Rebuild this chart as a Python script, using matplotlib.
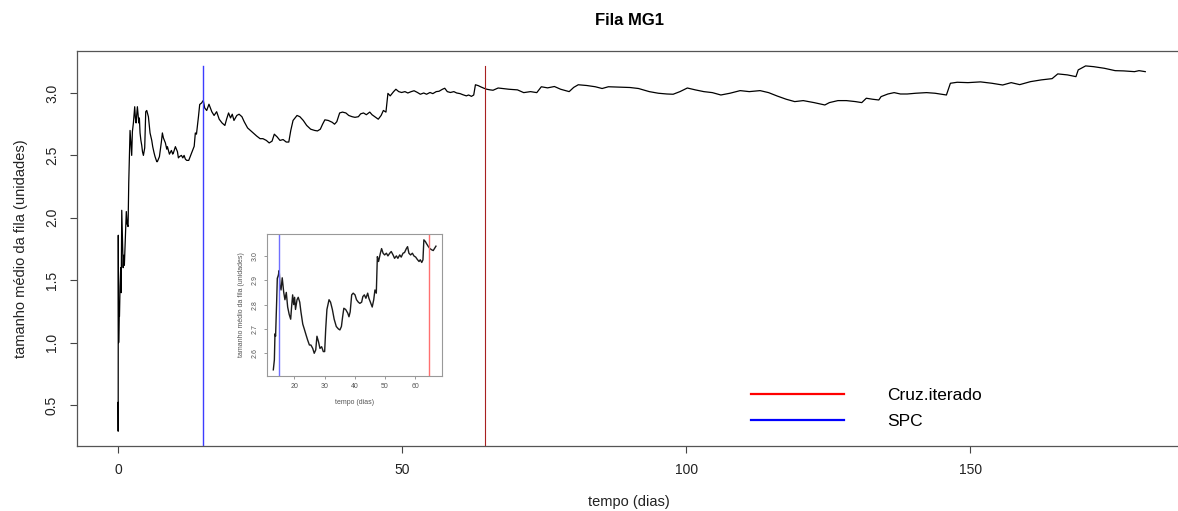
import numpy as np
import matplotlib
matplotlib.use('Agg')
import matplotlib.pyplot as plt
from matplotlib.lines import Line2D

plt.rcParams['font.family'] = ['Liberation Sans', 'DejaVu Sans']

# Média acumulada do tamanho da fila
tempo = [
    0.00, 0.02, 0.04, 0.10, 0.18, 0.25, 0.35, 0.47, 0.55, 0.65, 0.76, 0.90, 1.00, 1.11,
    1.30, 1.45, 1.60, 1.76, 1.88, 2.11, 2.29, 2.40, 2.52, 2.70, 2.93, 3.05, 3.17, 3.28,
    3.40, 3.52, 3.64, 3.75, 3.87, 4.02, 4.17, 4.30, 4.46, 4.69, 4.87, 5.05, 5.16, 5.34,
    5.63, 5.93, 6.10, 6.34, 6.51, 6.81, 6.92, 7.28, 7.63, 7.80, 7.98, 8.33, 8.57, 8.69,
    9.04, 9.15, 9.39, 9.62, 9.74, 10.09, 10.45, 10.62, 10.80, 11.15, 11.40, 11.62, 11.85,
    12.09, 12.44, 12.79,
    13.05, 13.4, 13.6, 13.8, 14.15, 14.37, 14.7, 15.0, 15.25, 15.6, 16.0, 16.5, 16.9,
    17.35, 17.8, 18.3, 18.8, 19.1, 19.45, 19.8, 20.1, 20.4, 20.9, 21.3, 21.8, 22.2, 22.8,
    23.3, 23.9, 24.4, 25.0, 25.5, 26.1, 26.6, 27.1, 27.5, 28.0, 28.5, 29.05, 29.6, 30.05,
    30.4, 30.8, 31.5, 32.0, 32.6, 33.2, 33.9, 34.6, 35.1, 35.6, 36.0, 36.4, 37.0, 37.7,
    38.1, 38.5, 39.0, 39.5, 40.1, 40.6, 41.2, 41.7, 42.3, 42.7, 43.2, 43.7, 44.3, 44.7,
    45.2, 45.8, 46.3, 46.7, 47.15, 47.5, 47.9, 48.5, 48.9, 49.4, 49.9, 50.5, 51.0, 51.6,
    52.1, 52.7, 53.2, 53.8, 54.3, 54.9, 55.4, 56.0, 56.5, 57.1, 57.5, 57.95, 58.5, 59.1,
    59.6, 60.2, 60.7, 61.3, 61.7, 62.2, 62.6, 62.9, 63.4, 63.8, 64.4, 64.9, 65.5, 66.0,
    66.4, 66.9,
    67.25, 68.8, 70.3, 71.4, 72.6, 73.7, 74.5, 75.6, 76.8, 77.9, 79.4, 80.2, 81.0, 82.5,
    84.0, 85.2, 86.3, 88.2, 90.1, 91.6, 93.5, 95.1, 96.6, 97.7, 98.9, 100.2, 101.6, 103.1,
    104.6, 106.1, 107.7, 109.5, 111.1, 113.0, 114.5, 116.0, 117.6, 119.1, 120.6, 122.5,
    124.4, 125.2, 126.7, 128.2, 129.8, 130.9, 131.7, 132.8, 133.9, 134.3, 135.5, 136.6,
    137.7, 138.9, 140.4, 142.3, 143.8, 145.8, 146.5, 147.7, 149.6, 151.8, 153.8, 155.7,
    157.2, 158.7, 160.6, 162.5, 164.4, 165.4, 167.1, 168.6, 169.0, 170.3, 171.7, 173.6,
    175.5, 177.0, 178.9, 179.7, 180.8,
]
tamanho = [
    0.52, 0.29, 1.86, 1.00, 1.22, 1.21, 1.45, 1.60, 1.40, 2.06, 1.85, 1.60, 1.70, 1.62,
    1.85, 2.05, 1.95, 1.93, 2.28, 2.70, 2.57, 2.50, 2.69, 2.76, 2.89, 2.80, 2.76, 2.82,
    2.89, 2.83, 2.76, 2.80, 2.68, 2.62, 2.58, 2.53, 2.50, 2.56, 2.85, 2.86, 2.84, 2.81,
    2.68, 2.62, 2.57, 2.52, 2.49, 2.45, 2.45, 2.49, 2.61, 2.68, 2.64, 2.60, 2.55, 2.57,
    2.51, 2.52, 2.54, 2.51, 2.52, 2.57, 2.53, 2.48, 2.49, 2.50, 2.48, 2.50, 2.47,
    2.46, 2.46, 2.50,
    2.532, 2.573, 2.68, 2.67, 2.81, 2.908, 2.92, 2.94, 2.88, 2.86, 2.91, 2.85, 2.82,
    2.85, 2.79, 2.76, 2.74, 2.79, 2.84, 2.80, 2.83, 2.78, 2.82, 2.83, 2.81, 2.77, 2.72,
    2.70, 2.675, 2.655, 2.634, 2.634, 2.62, 2.60, 2.614, 2.67, 2.648, 2.62, 2.627, 2.607, 2.607,
    2.70, 2.78, 2.82, 2.81, 2.78, 2.74, 2.71, 2.70, 2.696, 2.71, 2.75, 2.785, 2.78, 2.765,
    2.75, 2.77, 2.84, 2.847, 2.84, 2.82, 2.81, 2.805, 2.81, 2.833, 2.84, 2.826, 2.847, 2.826,
    2.81, 2.79, 2.82, 2.86, 2.847, 2.997, 2.977, 3.011, 3.03, 3.011, 3.004, 3.011, 3.0, 3.011,
    3.018, 3.004, 2.99, 3.0, 2.99, 3.004, 2.995, 3.011, 3.014, 3.03, 3.038, 3.011, 3.004, 3.011,
    3.0, 2.995, 2.986, 2.977, 2.984, 2.973, 2.984, 3.066, 3.059, 3.05, 3.038, 3.03, 3.025, 3.022,
    3.03, 3.04,
    3.038, 3.03, 3.025, 3.003, 3.011, 3.003, 3.050, 3.041, 3.052, 3.030, 3.011, 3.045, 3.066, 3.060,
    3.050, 3.036, 3.050, 3.047, 3.044, 3.036, 3.011, 2.998, 2.992, 2.990, 3.011, 3.040, 3.025, 3.011,
    3.003, 2.984, 2.998, 3.019, 3.011, 3.019, 3.003, 2.976, 2.950, 2.931, 2.939, 2.923,
    2.904, 2.923, 2.939, 2.939, 2.931, 2.923, 2.958, 2.950, 2.944, 2.971, 2.992, 3.003,
    2.992, 2.992, 2.998, 3.003, 2.998, 2.984, 3.078, 3.086, 3.083, 3.089, 3.078, 3.064,
    3.083, 3.067, 3.091, 3.105, 3.115, 3.153, 3.145, 3.131, 3.185, 3.217, 3.211, 3.198,
    3.179, 3.177, 3.171, 3.179, 3.171,
]

# instantes de aquecimento estimados por cada método
t_spc = 15.0
t_cruz = 64.5
metodos = ['Cruz.iterado', 'SPC']
cores = ['red', 'blue']

tempo = np.array(tempo)
tamanho = np.array(tamanho)

fig = plt.figure(figsize=(11.78, 5.11), dpi=100)
ax = fig.add_axes([0.0654, 0.1272, 0.9372, 0.773])

ax.plot(tempo, tamanho, color='black', lw=0.9)
ax.plot([t_spc, t_spc], [0, tamanho.max()], color='#3c3cff', lw=1.0)
ax.plot([t_cruz, t_cruz], [0, tamanho.max()], color='#a82020', lw=0.8)

ax.set_xlim(-7.22, 187.1)
ax.set_ylim(0.1715, 3.3365)
ax.set_xticks([0, 50, 100, 150])
ax.set_yticks([0.5, 1.0, 1.5, 2.0, 2.5, 3.0])
ax.set_yticklabels(['0.5', '1.0', '1.5', '2.0', '2.5', '3.0'])
ax.tick_params(direction='out', length=5, width=0.8, color='#444444',
               labelsize=10, labelcolor='#222222')
ax.tick_params(axis='x', pad=7)
ax.tick_params(axis='y', pad=8)
plt.setp(ax.get_yticklabels(), rotation=90, va='center')
for s in ax.spines.values():
    s.set_color('#555555')
    s.set_linewidth(0.9)

ax.set_title('Fila MG1', fontsize=12, fontweight='bold', pad=19)
ax.set_xlabel('tempo (dias)', fontsize=10.5, labelpad=13, color='#222222')
ax.set_ylabel('tamanho médio da fila (unidades)', fontsize=10.5, labelpad=12,
              color='#222222')

# legenda sem caixa
handles = [Line2D([], [], color=c, lw=1.6) for c in cores]
ax.legend(handles, metodos, loc='upper left', bbox_to_anchor=(0.6373, 0.2407),
          bbox_transform=fig.transFigure, frameon=False, fontsize=12.5,
          handlelength=5.35, handletextpad=2.5, labelspacing=0.62,
          borderpad=0, borderaxespad=0)

# detalhe (zoom) do trecho inicial
mask = (tempo >= 13) & (tempo <= 67)
axi = fig.add_axes([0.2264, 0.2648, 0.1488, 0.2773])
axi.plot(tempo[mask], tamanho[mask], color='#1a1a1a', lw=1.0)
axi.axvline(t_spc, color='#7070ff', lw=1.0)
axi.axvline(t_cruz, color='#ff7070', lw=1.0)
axi.set_xlim(10.86, 68.9)
axi.set_ylim(2.508, 3.09)
axi.set_xticks([20, 30, 40, 50, 60])
axi.set_yticks([2.6, 2.7, 2.8, 2.9, 3.0])
axi.set_yticklabels(['2.6', '2.7', '2.8', '2.9', '3.0'])
axi.tick_params(direction='out', length=2.5, width=0.6, color='#888888',
                labelsize=5, labelcolor='#555555', pad=3)
plt.setp(axi.get_yticklabels(), rotation=90, va='center')
for s in axi.spines.values():
    s.set_color('#999999')
    s.set_linewidth(0.8)
axi.set_xlabel('tempo (dias)', fontsize=5, color='#555555', labelpad=6)
axi.set_ylabel('tamanho médio da fila (unidades)', fontsize=5, color='#555555',
               labelpad=5)

fig.savefig('out.png', dpi=100)
